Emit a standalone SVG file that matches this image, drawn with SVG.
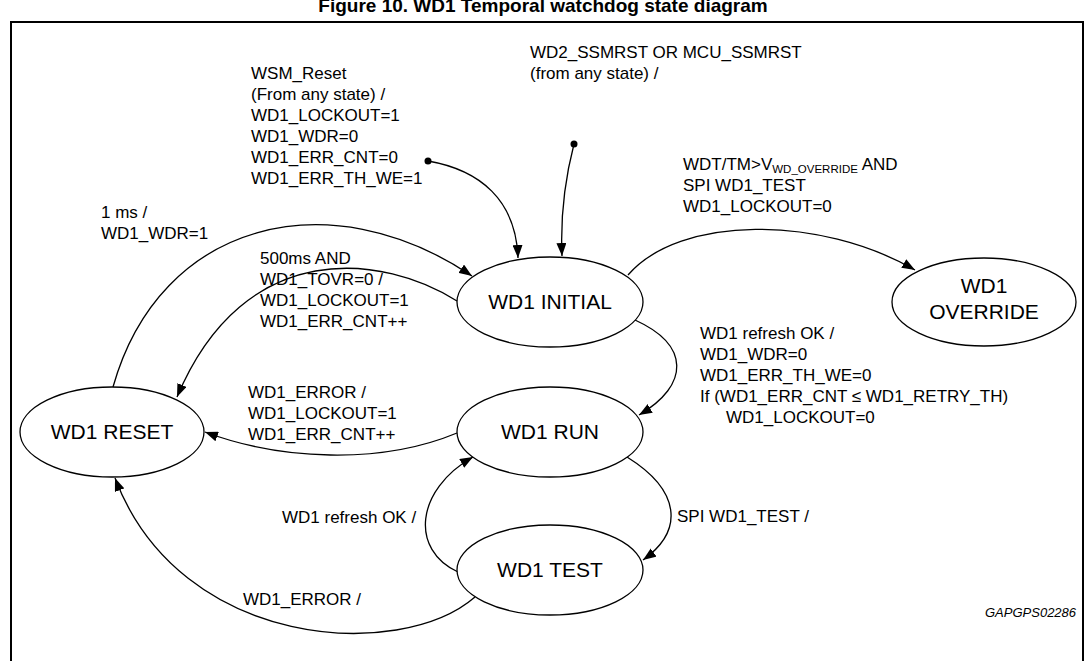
<svg xmlns="http://www.w3.org/2000/svg" width="1085" height="661" viewBox="0 0 1085 661">
<defs>
<style>
.lbl{font-family:"Liberation Sans",Arial,sans-serif;font-size:17px;fill:#000}
.nd{font-family:"Liberation Sans",Arial,sans-serif;font-size:21px;fill:#000;text-anchor:middle}
.st{fill:#fff;stroke:#000;stroke-width:1.3}
.cn{fill:none;stroke:#000;stroke-width:1.3}
</style>
<marker id="arr" markerWidth="13" markerHeight="10" refX="13" refY="5" orient="auto" markerUnits="userSpaceOnUse"><path d="M0,0 L13,5 L0,10 z" fill="#000"/></marker>
</defs>
<rect x="0" y="0" width="1085" height="661" fill="#fff"/>
<text x="543" y="12" text-anchor="middle" font-family="Liberation Sans,Arial,sans-serif" font-weight="bold" font-size="19">Figure 10. WD1 Temporal watchdog state diagram</text>
<rect x="11" y="22" width="1072" height="660" fill="none" stroke="#000" stroke-width="2"/>

<g id="connectors">
<circle cx="428" cy="161" r="3.5" fill="#000"/>
<path class="cn" d="M428,161 C480,170 516,200 518,258" marker-end="url(#arr)"/>
<circle cx="574" cy="144" r="3.5" fill="#000"/>
<path class="cn" d="M574,144 C566,175 560,210 562,256" marker-end="url(#arr)"/>
<path class="cn" d="M628,275 C680,215 820,215 915,270" marker-end="url(#arr)"/>
<path class="cn" d="M635,320 C690,345 690,385 639,415" marker-end="url(#arr)"/>
<path class="cn" d="M113,387 C160,220 330,180 472,276" marker-end="url(#arr)"/>
<path class="cn" d="M457,301 C385,255 245,235 177,397" marker-end="url(#arr)"/>
<path class="cn" d="M457,433 C380,465 280,460 205,432" marker-end="url(#arr)"/>
<path class="cn" d="M627,457 C680,490 685,530 643,560" marker-end="url(#arr)"/>
<path class="cn" d="M458,572 C410,550 415,490 473,457" marker-end="url(#arr)"/>
<path class="cn" d="M475,597 C400,662 180,650 115,478" marker-end="url(#arr)"/>
</g>

<g id="labels">
<text class="lbl" x="251" y="79">WSM_Reset</text>
<text class="lbl" x="251" y="100">(From any state) /</text>
<text class="lbl" x="251" y="121">WD1_LOCKOUT=1</text>
<text class="lbl" x="251" y="142">WD1_WDR=0</text>
<text class="lbl" x="251" y="163">WD1_ERR_CNT=0</text>
<text class="lbl" x="251" y="184">WD1_ERR_TH_WE=1</text>
<text class="lbl" x="530" y="58">WD2_SSMRST OR MCU_SSMRST</text>
<text class="lbl" x="530" y="79">(from any state) /</text>
<text class="lbl" x="683" y="170">WDT/TM&gt;V<tspan font-size="11.5" dy="3">WD_OVERRIDE</tspan><tspan dy="-3"> AND</tspan></text>
<text class="lbl" x="683" y="191">SPI WD1_TEST</text>
<text class="lbl" x="683" y="212">WD1_LOCKOUT=0</text>
<text class="lbl" x="101" y="218">1 ms /</text>
<text class="lbl" x="101" y="239">WD1_WDR=1</text>
<text class="lbl" x="260" y="264">500ms AND</text>
<text class="lbl" x="260" y="285">WD1_TOVR=0 /</text>
<text class="lbl" x="260" y="306">WD1_LOCKOUT=1</text>
<text class="lbl" x="260" y="327">WD1_ERR_CNT++</text>
<text class="lbl" x="700" y="339">WD1 refresh OK /</text>
<text class="lbl" x="700" y="360">WD1_WDR=0</text>
<text class="lbl" x="700" y="381">WD1_ERR_TH_WE=0</text>
<text class="lbl" x="700" y="402">If (WD1_ERR_CNT ≤ WD1_RETRY_TH)</text>
<text class="lbl" x="726" y="423">WD1_LOCKOUT=0</text>
<text class="lbl" x="248" y="398">WD1_ERROR /</text>
<text class="lbl" x="248" y="419">WD1_LOCKOUT=1</text>
<text class="lbl" x="248" y="440">WD1_ERR_CNT++</text>
<text class="lbl" x="282" y="523">WD1 refresh OK /</text>
<text class="lbl" x="677" y="522">SPI WD1_TEST /</text>
<text class="lbl" x="243" y="605">WD1_ERROR /</text>
<text x="985" y="617" font-family="Liberation Sans,Arial,sans-serif" font-style="italic" font-size="13">GAPGPS02286</text>
</g>

<g id="node-initial"><ellipse class="st" cx="550" cy="302" rx="93" ry="45"/><text class="nd" x="550" y="309">WD1 INITIAL</text></g>
<g id="node-override"><ellipse class="st" cx="984" cy="302" rx="92" ry="44"/><text class="nd" x="984" y="293">WD1</text><text class="nd" x="984" y="319">OVERRIDE</text></g>
<g id="node-reset"><ellipse class="st" cx="112" cy="432" rx="92" ry="45"/><text class="nd" x="112" y="439">WD1 RESET</text></g>
<g id="node-run"><ellipse class="st" cx="550" cy="432" rx="93" ry="45"/><text class="nd" x="550" y="439">WD1 RUN</text></g>
<g id="node-test"><ellipse class="st" cx="550" cy="570" rx="93" ry="45"/><text class="nd" x="550" y="577">WD1 TEST</text></g>
</svg>
